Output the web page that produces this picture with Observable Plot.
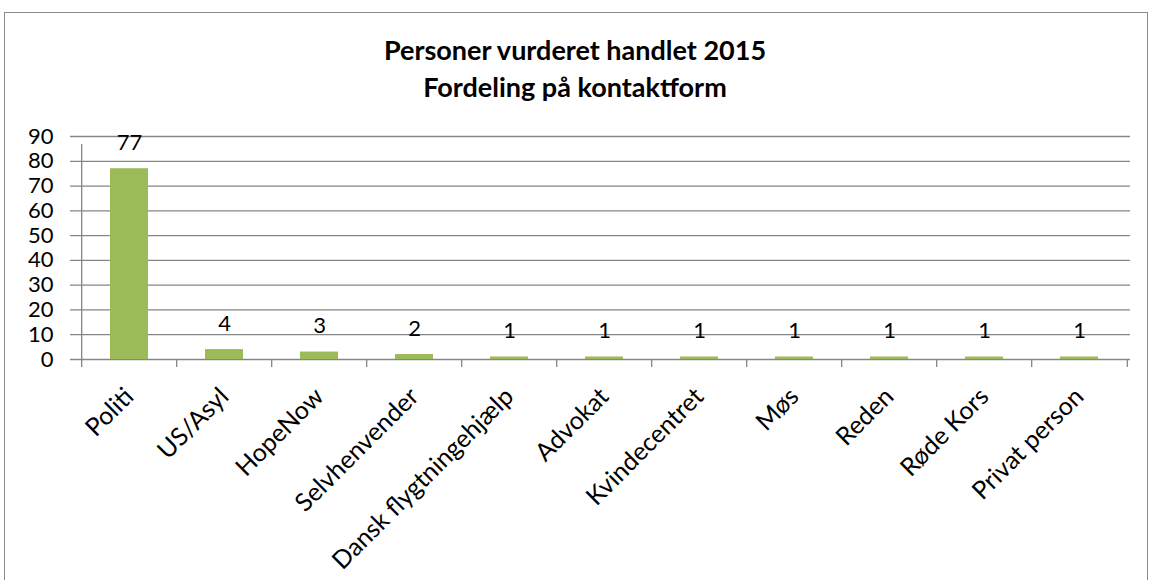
<!DOCTYPE html>
<html>
<head>
<meta charset="utf-8">
<script src="https://cdn.jsdelivr.net/npm/d3@7"></script>
<script src="https://cdn.jsdelivr.net/npm/@observablehq/plot@0.6"></script>
<style>
  html, body { margin: 0; padding: 0; background: #fff; }
  body { width: 1150px; height: 580px; position: relative; overflow: hidden; font-family: Lato, "Open Sans", sans-serif; }
  #frame { position: absolute; left: 4px; top: 12px; width: 1144px; height: 600px; border: 1.5px solid #8a8a8a; box-sizing: border-box; }
  #title { position: absolute; left: 0; width: 1150px; top: 31px; text-align: center; font-weight: bold; font-size: 27px; line-height: 37px; color: #000; }
  #chart { position: absolute; left: 0; top: 100px; }
</style>
</head>
<body>
<div id="frame"></div>
<div id="title">Personer vurderet handlet 2015<br>Fordeling på kontaktform</div>
<div id="chart"></div>
<script>
const categories = ["Politi", "US/Asyl", "HopeNow", "Selvhenvender", "Dansk flygtningehjælp", "Advokat", "Kvindecentret", "Møs", "Reden", "Røde Kors", "Privat person"];
const values = [77, 4, 3, 2, 1, 1, 1, 1, 1, 1, 1];
const yTicks = [0, 10, 20, 30, 40, 50, 60, 70, 80, 90];

const data = categories.map((c, i) => ({category: c, value: values[i]}));

const W = 1150, H = 480, mL = 78, mR = 20, mT = 36, mB = 221;
const step = (W - mL - mR) / categories.length;

const chart = Plot.plot({
  width: W,
  height: H,
  marginLeft: mL,
  marginRight: mR,
  marginTop: mT,
  marginBottom: mB,
  style: {fontFamily: "Lato, 'Open Sans', sans-serif", fontSize: "22px", color: "#000", background: "transparent"},
  x: {domain: categories, paddingInner: 0.6, paddingOuter: 0.3, axis: null},
  y: {domain: [0, 90], axis: null},
  marks: [
    Plot.ruleY(yTicks, {stroke: "#868686", strokeWidth: 1.3, insetLeft: -8}),
    Plot.ruleX([0], {x: () => categories[0], dx: -step / 2, y1: 0, y2: 90, insetBottom: -8, stroke: "#868686", strokeWidth: 1.3}),
    Plot.ruleX(categories, {x: d => d, dx: -step / 2, y1: 0, y2: 0, insetBottom: -8, stroke: "#868686", strokeWidth: 1.3}),
    Plot.ruleX([categories[categories.length - 1]], {x: d => d, dx: step / 2, y1: 0, y2: 0, insetBottom: -8, stroke: "#868686", strokeWidth: 1.3}),
    Plot.barY(data, {x: "category", y: "value", fill: "#9BBB59"}),
    Plot.text(data, {x: "category", y: "value", text: d => String(d.value), dy: -26, fontSize: 22, fill: "#000"}),
    Plot.axisY(yTicks, {tickSize: 0, tickPadding: 25, fontSize: 22, fill: "#000", label: null, tickFormat: d => String(d)}),
    Plot.axisX({tickSize: 0, tickRotate: -45, tickPadding: 33, fontSize: 25, fill: "#000", label: null})
  ]
});
document.getElementById("chart").appendChild(chart);
</script>
</body>
</html>
